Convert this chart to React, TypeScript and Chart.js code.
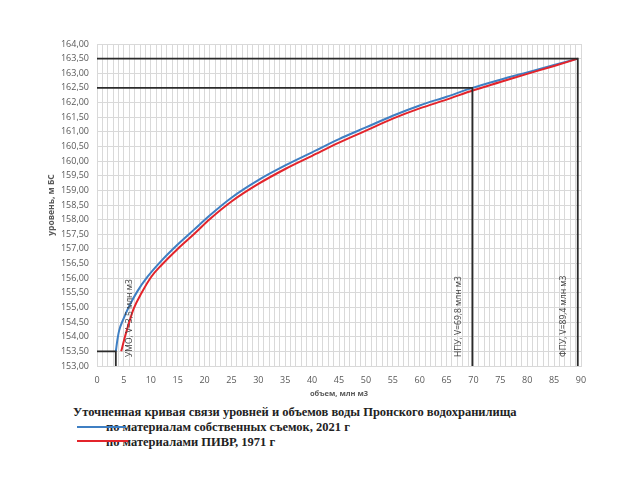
import React, { useEffect, useRef } from "react";
import { Chart, registerables } from "chart.js";

Chart.register(...registerables);

// ---- data ----
const BLUE_VOLUMES = [3.5, 3.8, 4.1, 4.9, 6.0, 7.5, 9.4, 12, 15, 18, 21, 25, 30, 35, 40, 45, 50, 55, 60, 65, 69.8, 75, 80, 85, 89.4];
const BLUE_LEVELS = [153.5, 153.9, 154.2, 154.6, 155.05, 155.55, 156.05, 156.6, 157.15, 157.65, 158.15, 158.75, 159.35, 159.85, 160.3, 160.75, 161.15, 161.55, 161.9, 162.2, 162.5, 162.78, 163.03, 163.28, 163.5];

const RED_VOLUMES = [4.5, 5.2, 6.0, 6.8, 8.3, 10.1, 12, 15, 18, 21, 25, 30, 35, 40, 45, 50, 55, 60, 65, 70, 75, 80, 85, 89.4];
const RED_LEVELS = [153.5, 154.0, 154.5, 154.95, 155.5, 156.05, 156.45, 157.0, 157.5, 158.02, 158.62, 159.22, 159.73, 160.18, 160.63, 161.04, 161.45, 161.8, 162.1, 162.42, 162.7, 162.98, 163.25, 163.5];

const MARK_VOLUMES = [3.5, 69.8, 89.4];
const MARK_LEVELS = [153.5, 162.5, 163.5];
const MARK_LABELS = ["УМО, V=3,5 млн м3", "НПУ, V=69,8 млн м3", "ФПУ, V=89,4 млн м3"];

const X_MIN = 0;
const X_MAX = 90;
const X_LABEL_STEP = 5;
const Y_MIN = 153;
const Y_MAX = 164;
const Y_STEP = 0.5;

const X_TITLE = "объем, млн м3";
const Y_TITLE = "уровень, м БС";
const LEGEND_TITLE = "Уточненная кривая связи уровней и объемов воды Пронского водохранилища";
const SERIES_NAMES = ["по материалам собственных съемок, 2021 г", "по материалами ПИВР, 1971 г"];

// ---- styles ----
const BLUE = "#3f7fc3";
const RED = "#e3242b";
const MARK_COLOR = "#2b2b2b";
const GRID = "#d9d9d9";
const AXIS_TEXT = "#595959";
const FONT = "'Open Sans', 'DejaVu Sans', sans-serif";
const SERIF = "'Liberation Serif', 'Times New Roman', serif";

const markerLabelPlugin = {
  id: "markerLabels",
  afterDatasetsDraw(chart: any) {
    const { ctx, scales, chartArea } = chart;
    const xs = scales.x;
    ctx.save();
    ctx.fillStyle = "#404040";
    ctx.font = `8.5px ${FONT}`;
    ctx.textAlign = "left";
    ctx.textBaseline = "middle";
    MARK_VOLUMES.forEach((v, i) => {
      const px = xs.getPixelForValue(v);
      const x = i === 0 ? px + 14 : px - 14;
      ctx.save();
      ctx.translate(x, chartArea.bottom - 9);
      ctx.rotate(-Math.PI / 2);
      ctx.fillText(MARK_LABELS[i], 0, 0);
      ctx.restore();
    });
    ctx.restore();
  },
};

export default function App() {
  const ref = useRef<HTMLCanvasElement | null>(null);

  useEffect(() => {
    if (!ref.current) return;
    const markerSets = MARK_VOLUMES.map((v, i) => ({
      label: MARK_LABELS[i],
      data: [
        { x: X_MIN, y: MARK_LEVELS[i] },
        { x: v, y: MARK_LEVELS[i] },
        { x: v, y: Y_MIN },
      ],
      borderColor: MARK_COLOR,
      borderWidth: 1.8,
      pointRadius: 0,
      tension: 0,
      fill: false,
    }));
    const chart = new Chart(ref.current, {
      type: "line",
      data: {
        datasets: [
          ...markerSets,
          {
            label: SERIES_NAMES[1],
            data: RED_VOLUMES.map((v, i) => ({ x: v, y: RED_LEVELS[i] })),
            borderColor: RED,
            borderWidth: 2,
            pointRadius: 0,
            cubicInterpolationMode: "monotone",
            fill: false,
          },
          {
            label: SERIES_NAMES[0],
            data: BLUE_VOLUMES.map((v, i) => ({ x: v, y: BLUE_LEVELS[i] })),
            borderColor: BLUE,
            borderWidth: 2,
            pointRadius: 0,
            cubicInterpolationMode: "monotone",
            fill: false,
          },
        ] as any,
      },
      options: {
        animation: false,
        responsive: false,
        layout: { padding: { left: 46, right: 59, top: 44, bottom: 0 } },
        plugins: { legend: { display: false }, tooltip: { enabled: false } },
        scales: {
          x: {
            type: "linear",
            min: X_MIN,
            max: X_MAX,
            afterFit(scale: any) {
              scale.height = 34;
            },
            ticks: {
              stepSize: 1,
              autoSkip: false,
              maxRotation: 0,
              padding: 9,
              color: AXIS_TEXT,
              font: { size: 9, family: FONT },
              callback: (v: any) => {
                const n = Math.round(Number(v));
                return n % X_LABEL_STEP === 0 ? String(n) : "";
              },
            },
            grid: { color: GRID, lineWidth: 1, drawTicks: false },
            border: { color: GRID },
            title: {
              display: true,
              text: X_TITLE,
              color: AXIS_TEXT,
              font: { size: 7.5, family: FONT, weight: "bold" },
              padding: { top: 0, bottom: 2 },
            },
          },
          y: {
            type: "linear",
            min: Y_MIN,
            max: Y_MAX,
            afterFit(scale: any) {
              scale.width = 51;
            },
            ticks: {
              stepSize: Y_STEP,
              padding: 8,
              color: AXIS_TEXT,
              font: { size: 9, family: FONT },
              callback: (v: any) => Number(v).toFixed(2).replace(".", ","),
            },
            grid: { color: GRID, lineWidth: 1, drawTicks: false },
            border: { color: GRID },
            title: {
              display: true,
              text: Y_TITLE,
              color: AXIS_TEXT,
              font: { size: 8.5, family: FONT, weight: "bold" },
              padding: { top: 0, bottom: 0 },
            },
          },
        },
      } as any,
      plugins: [markerLabelPlugin],
    });
    return () => chart.destroy();
  }, []);

  const textStyle: React.CSSProperties = {
    position: "absolute",
    fontFamily: SERIF,
    fontWeight: "bold",
    fontSize: 12.5,
    lineHeight: "14px",
    color: "#222",
    whiteSpace: "nowrap",
  };

  return (
    <div style={{ position: "absolute", left: 0, top: 0, width: 640, height: 480, background: "#fff", overflow: "hidden" }}>
      <canvas ref={ref} width={640} height={400} style={{ position: "absolute", left: 0, top: 0 }} />
      <div style={{ ...textStyle, left: 73, top: 405 }}>{LEGEND_TITLE}</div>
      <div style={{ ...textStyle, left: 106, top: 420 }}>{SERIES_NAMES[0]}</div>
      <div style={{ ...textStyle, left: 106, top: 435 }}>{SERIES_NAMES[1]}</div>
      <div style={{ position: "absolute", left: 77, top: 426, width: 49, height: 2, background: BLUE }} />
      <div style={{ position: "absolute", left: 77, top: 440, width: 51, height: 2, background: RED }} />
    </div>
  );
}
